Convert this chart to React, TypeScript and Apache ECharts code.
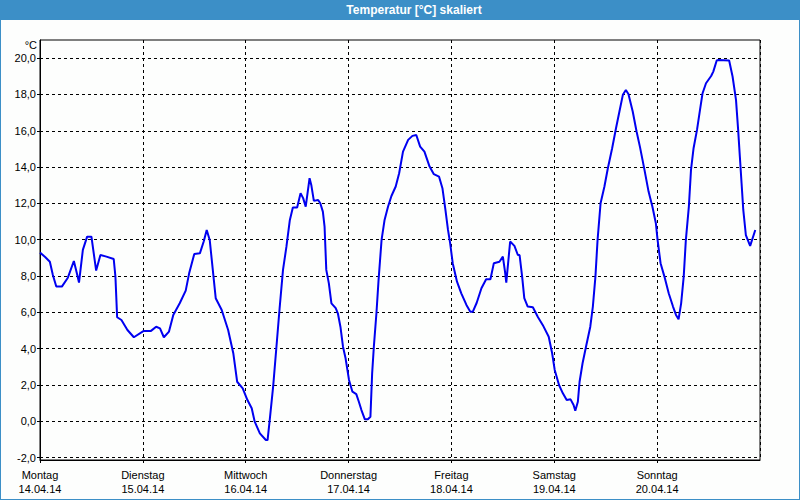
import React, { useEffect, useRef } from "react";
import * as echarts from "echarts";

const TITLE = "Temperatur [°C] skaliert";
const UNIT = "°C";
const DAY_NAMES = ["Montag", "Dienstag", "Mittwoch", "Donnerstag", "Freitag", "Samstag", "Sonntag"];
const DAY_DATES = ["14.04.14", "15.04.14", "16.04.14", "17.04.14", "18.04.14", "19.04.14", "20.04.14"];
const Y_TICKS = [-2, 0, 2, 4, 6, 8, 10, 12, 14, 16, 18, 20];

// hours since 14.04.14 00:00
const HOURS = [
  0, 1.2, 2.3, 3.0, 3.8, 5.1, 6.5, 7.9, 8.7, 9.1, 10.0, 11.0, 12.0, 13.1, 14.1, 15.5, 17.2, 17.6, 18.0, 19.0,
  20.4, 21.9, 24.2, 25.9, 27.1, 28.0, 28.9, 30.1, 31.1, 32.6, 34.0, 34.8, 36.0, 37.3, 38.2, 38.9, 39.6, 41.0,
  42.4, 43.9, 45.1, 46.0, 47.3, 48.4, 49.4, 50.1, 51.3, 52.7, 53.1, 53.6, 54.4, 55.3, 55.9, 56.7, 57.5, 58.3,
  59.0, 60.0, 60.8, 61.4, 62.0, 62.9, 63.3, 63.9, 64.9, 65.4, 66.0, 66.4, 66.8, 67.4, 68.0, 69.0, 69.5, 70.1,
  70.7, 71.3, 72.1, 72.9, 73.8, 74.4, 75.0, 75.8, 76.5, 77.1, 77.5, 77.9, 78.5, 79.0, 79.7, 80.4, 81.2, 82.0,
  83.0, 83.8, 84.7, 85.9, 86.9, 87.8, 88.7, 89.7, 90.9, 91.9, 93.1, 93.9, 94.6, 95.2, 95.7, 96.3, 97.3, 98.3,
  99.5, 100.4, 101.0, 101.9, 103.0, 104.1, 105.1, 105.9, 107.2, 108.0, 108.5, 108.8, 109.7, 110.7, 111.5, 111.9,
  112.5, 113.0, 113.8, 115.0, 116.2, 117.3, 118.7, 119.5, 120.1, 121.1, 122.0, 122.9, 123.8, 124.5, 124.9, 125.5,
  125.9, 126.6, 127.4, 128.4, 129.0, 129.6, 130.1, 130.8, 131.7, 132.5, 133.5, 134.4, 135.2, 136.0, 136.7, 137.3,
  138.3, 139.2, 140.0, 141.0, 142.0, 142.9, 143.7, 144.1, 144.8, 145.7, 146.7, 147.7, 148.4, 149.0, 149.6, 150.2,
  150.7, 151.4, 151.9, 152.5, 153.3, 154.0, 154.6, 155.4, 156.6, 157.1, 157.9, 158.3, 160.8, 161.6, 162.4, 162.9,
  163.3, 163.7, 164.1, 164.7, 165.7, 166.9,
];
const TEMPS = [
  9.29, 9.05, 8.79, 8.06, 7.42, 7.42, 7.91, 8.83, 8.06, 7.64, 9.44, 10.17, 10.17, 8.30, 9.16, 9.07, 8.94, 7.97, 5.73, 5.58,
  5.03, 4.63, 4.98, 4.98, 5.21, 5.12, 4.63, 4.94, 5.86, 6.50, 7.20, 8.15, 9.22, 9.25, 9.90, 10.54, 9.99, 6.78,
  6.13, 5.03, 3.75, 2.18, 1.82, 1.17, 0.72, -0.02, -0.66, -1.03, -1.03, 0.07, 1.91, 4.48, 6.2, 8.34, 9.62, 11.09,
  11.77, 11.77, 12.56, 12.29, 11.82, 13.39, 13.02, 12.14, 12.19, 12.01, 11.55, 10.72, 8.34, 7.60, 6.50, 6.23, 5.95, 5.21,
  4.11, 3.47, 2.28, 1.63, 1.50, 1.08, 0.62, 0.11, 0.11, 0.25, 2.64, 4.11, 5.95, 7.79, 9.99, 11.09, 11.82, 12.41,
  12.93, 13.66, 14.85, 15.50, 15.72, 15.77, 15.13, 14.85, 14.03, 13.61, 13.48, 12.84, 11.64, 10.54, 9.81, 8.71, 7.69, 7.05,
  6.41, 6.04, 6.04, 6.53, 7.33, 7.82, 7.82, 8.71, 8.79, 9.07, 8.24, 7.64, 9.90, 9.66, 9.16, 9.16,
  7.97, 6.78, 6.32, 6.28, 5.73, 5.31, 4.66, 3.75, 2.83, 2.00, 1.54, 1.17, 1.21, 0.90, 0.58, 1.08,
  2.18, 3.20, 4.11, 5.21, 6.32, 7.97, 9.99, 12.01, 12.93, 13.94, 15.04, 16.14, 17.06, 17.98, 18.25, 18.03,
  17.06, 15.96, 15.1, 13.9, 12.65, 11.82, 10.91, 9.99, 8.71, 7.97, 7.05, 6.32, 5.86, 5.62, 6.50, 7.97,
  9.99, 11.82, 13.85, 15.04, 16.05, 17.15, 18.07, 18.62, 19.02, 19.26, 19.87, 19.9, 19.87, 18.99, 17.70, 16.05,
  14.58, 13.11, 11.64, 10.26, 9.66, 10.54,
];

const FONT = "Liberation Sans";
const BLUE_BAR = "#3c8fc7";

export default function App() {
  const ref = useRef<HTMLDivElement>(null);
  useEffect(() => {
    document.body.style.margin = "0";
    if (!ref.current) return;
    const chart = echarts.init(ref.current, null, { renderer: "svg" });
    const data = HOURS.map((h, i) => [h, TEMPS[i]]);
    chart.setOption({
      animation: false,
      backgroundColor: "#fdfefd",
      textStyle: { fontFamily: FONT },
      grid: {
        left: 40,
        right: 40,
        top: 40,
        bottom: 40,
        show: true,
        borderColor: "#000",
        borderWidth: 1,
        backgroundColor: "transparent",
      },
      xAxis: {
        type: "value",
        min: 0,
        max: 168,
        interval: 24,
        axisLine: { show: true, onZero: false, lineStyle: { color: "#000", width: 1 } },
        axisTick: { show: true, length: 3, lineStyle: { color: "#000" } },
        splitLine: { show: true, lineStyle: { color: "#000", type: [3, 3], width: 1 } },
        axisLabel: {
          color: "#000",
          fontSize: 11,
          fontFamily: FONT,
          lineHeight: 14,
          margin: 8,
          showMaxLabel: false,
          formatter: (v: number) => {
            const i = Math.round(v / 24);
            if (i >= DAY_NAMES.length) return "";
            return DAY_NAMES[i] + "\n" + DAY_DATES[i];
          },
        },
      },
      yAxis: {
        type: "value",
        min: -2.13,
        max: 21.0,
        axisLine: { show: true, onZero: false, lineStyle: { color: "#000", width: 1 } },
        axisTick: { show: true, length: 3, customValues: Y_TICKS, lineStyle: { color: "#000" } },
        splitLine: { show: true, lineStyle: { color: "#000", type: [3, 3], width: 1 } },
        axisLabel: {
          color: "#000",
          fontSize: 11,
          fontFamily: FONT,
          margin: 4,
          customValues: Y_TICKS,
          formatter: (v: number) => v.toFixed(1).replace(".", ","),
        },
      },
      graphic: [
        { type: "rect", shape: { x: 0, y: 0, width: 800, height: 20 }, style: { fill: BLUE_BAR } },
        { type: "rect", shape: { x: 0, y: 0, width: 1, height: 500 }, style: { fill: BLUE_BAR } },
        { type: "rect", shape: { x: 799, y: 0, width: 1, height: 500 }, style: { fill: BLUE_BAR } },
        { type: "rect", shape: { x: 0, y: 499, width: 800, height: 1 }, style: { fill: BLUE_BAR } },
        {
          type: "text",
          x: 414,
          y: 10,
          style: {
            text: TITLE,
            fill: "#fff",
            font: `bold 12px "${FONT}"`,
            align: "center",
            verticalAlign: "middle",
          },
        },
        {
          type: "text",
          x: 37,
          y: 45,
          style: {
            text: UNIT,
            fill: "#000",
            font: `11px "${FONT}"`,
            align: "right",
            verticalAlign: "middle",
          },
        },
      ],
      series: [
        {
          type: "line",
          data,
          showSymbol: false,
          symbol: "none",
          lineStyle: { color: "#0000f0", width: 2 },
          itemStyle: { color: "#0000f0" },
          clip: true,
        },
      ],
    });
    return () => chart.dispose();
  }, []);
  return <div ref={ref} style={{ width: 800, height: 500 }} />;
}
